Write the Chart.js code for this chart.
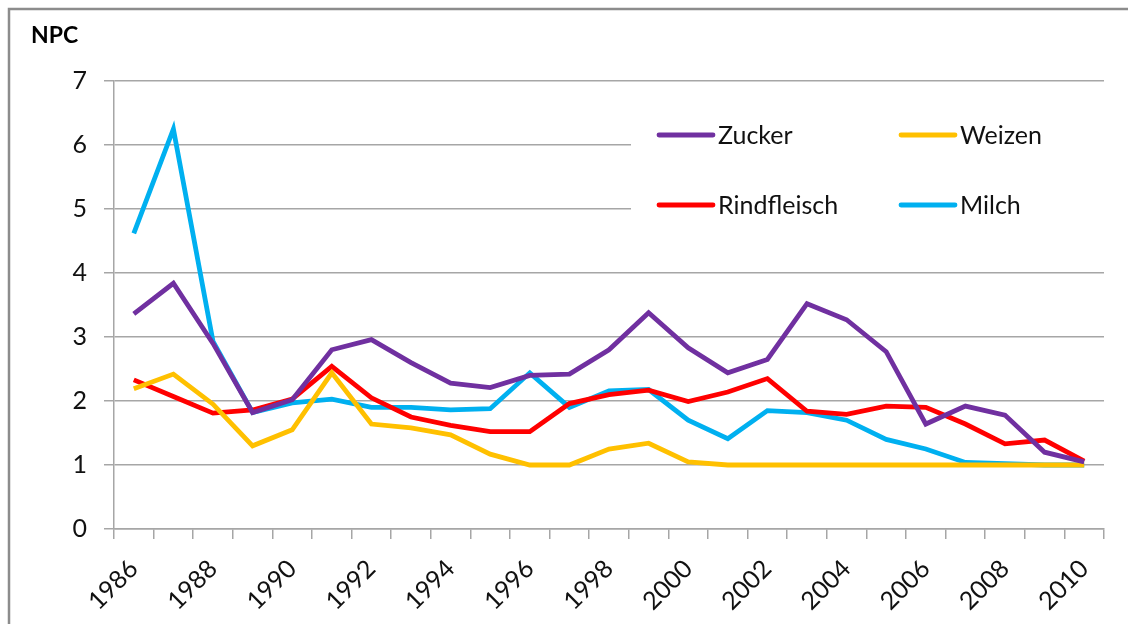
<!DOCTYPE html>
<html>
<head>
<meta charset="utf-8">
<script src="https://cdn.jsdelivr.net/npm/chart.js@4/dist/chart.umd.min.js"></script>
<style>
    html, body { margin: 0; padding: 0; background: #fff; }
    #wrap { width: 1128px; height: 624px; position: relative; }
</style>
</head>
<body>
<div id="wrap"><canvas id="chart-npc"></canvas></div>
<script>
const YEARS = ['1986', '1987', '1988', '1989', '1990', '1991', '1992', '1993', '1994', '1995',
               '1996', '1997', '1998', '1999', '2000', '2001', '2002', '2003', '2004', '2005',
               '2006', '2007', '2008', '2009', '2010'];

const ZUCKER      = [3.36, 3.84, 2.9, 1.82, 2.02, 2.8, 2.96, 2.6, 2.28, 2.21, 2.4, 2.42, 2.8, 3.38, 2.83, 2.44, 2.65, 3.52, 3.27, 2.77, 1.64, 1.92, 1.78, 1.2, 1.05];
const WEIZEN      = [2.19, 2.42, 1.95, 1.3, 1.55, 2.44, 1.64, 1.58, 1.47, 1.17, 1.0, 1.0, 1.25, 1.34, 1.05, 1.0, 1.0, 1.0, 1.0, 1.0, 1.0, 1.0, 1.0, 1.0, 1.0];
const RINDFLEISCH = [2.33, 2.07, 1.81, 1.86, 2.03, 2.54, 2.05, 1.75, 1.62, 1.52, 1.52, 1.96, 2.1, 2.17, 1.99, 2.14, 2.35, 1.84, 1.79, 1.92, 1.9, 1.64, 1.33, 1.39, 1.06];
const MILCH       = [4.62, 6.25, 2.93, 1.82, 1.97, 2.03, 1.9, 1.9, 1.86, 1.88, 2.44, 1.9, 2.16, 2.18, 1.7, 1.41, 1.85, 1.82, 1.7, 1.4, 1.25, 1.04, 1.02, 1.0, 1.0];

const Y_TICKS = [0, 1, 2, 3, 4, 5, 6, 7];

const FONT  = 'Lato, "Open Sans", sans-serif';
const GRID  = '#a6a6a6';
const TEXT  = '#111';

function ds(label, data, color) {
    return {
        label, data,
        borderColor: color,
        backgroundColor: color,
        borderWidth: 4.8,
        pointRadius: 0,
        tension: 0,
        borderJoinStyle: 'miter'
    };
}

// frame, title and the 2x2 legend box inside the plot
const decor = {
    id: 'decor',
    afterDraw(chart) {
        const ctx = chart.ctx;
        ctx.save();
        ctx.strokeStyle = '#8c8c8c';
        ctx.lineWidth = 2.5;
        ctx.beginPath();
        ctx.moveTo(9, 624); ctx.lineTo(9, 9); ctx.lineTo(1128, 9);
        ctx.stroke();

        ctx.fillStyle = '#000';
        ctx.font = `bold 23px ${FONT}`;
        ctx.textBaseline = 'middle';
        ctx.textAlign = 'left';
        ctx.fillText('NPC', 31, 36);

        ctx.fillStyle = '#fff';
        ctx.fillRect(631, 100, 474, 150);

        const pos = [[657, 135], [899, 135], [657, 205], [899, 205]];
        ctx.font = `25px ${FONT}`;
        chart.data.datasets.forEach((d, i) => {
            const [x, y] = pos[i];
            ctx.strokeStyle = d.borderColor;
            ctx.lineWidth = 4.8;
            ctx.lineCap = 'round';
            ctx.beginPath();
            ctx.moveTo(x + 2, y); ctx.lineTo(x + 56, y);
            ctx.stroke();
            ctx.fillStyle = TEXT;
            ctx.fillText(d.label, x + 61, y + 1);
        });
        ctx.restore();
    }
};

new Chart(document.getElementById('chart-npc'), {
    type: 'line',
    data: {
        labels: YEARS,
        datasets: [
            ds('Zucker', ZUCKER, '#7030a0'),
            ds('Weizen', WEIZEN, '#ffc000'),
            ds('Rindfleisch', RINDFLEISCH, '#ff0000'),
            ds('Milch', MILCH, '#00b0f0')
        ]
    },
    options: {
        responsive: true,
        maintainAspectRatio: false,
        animation: false,
        layout: { padding: { top: 81, right: 24, left: 0, bottom: 0 } },
        plugins: {
            legend: { display: false },
            tooltip: { enabled: false }
        },
        scales: {
            x: {
                offset: true,
                grid: { offset: true, drawOnChartArea: false, color: GRID, tickLength: 10, lineWidth: 1.5 },
                border: { display: true, color: GRID, width: 1.5 },
                ticks: {
                    autoSkip: false,
                    minRotation: 45,
                    maxRotation: 45,
                    padding: 15,
                    color: TEXT,
                    font: { family: FONT, size: 25 },
                    callback: (v, i) => i % 2 === 0 ? YEARS[i] : ''
                },
                afterFit: s => { s.height = 95; }
            },
            y: {
                min: 0,
                max: 7,
                afterBuildTicks: s => { s.ticks = Y_TICKS.map(v => ({ value: v })); },
                grid: { color: GRID, tickLength: 10, lineWidth: 1.5 },
                border: { display: true, color: GRID, width: 1.5 },
                ticks: {
                    padding: 17,
                    color: TEXT,
                    font: { family: FONT, size: 25 }
                },
                afterFit: s => { s.width = 114; }
            }
        }
    },
    plugins: [decor]
});
</script>
</body>
</html>
